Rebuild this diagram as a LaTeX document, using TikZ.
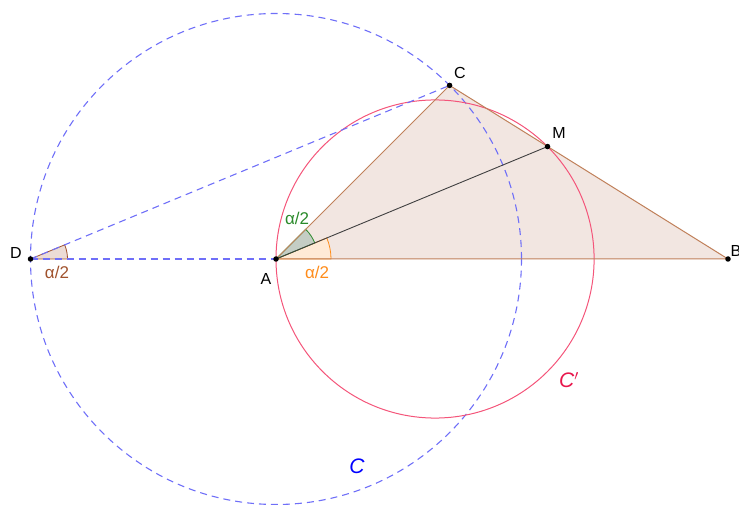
\documentclass[tikz,border=0pt]{standalone}
\usepackage{fontspec}
\setmainfont{Liberation Sans}
\usetikzlibrary{calc}
\begin{document}
\begin{tikzpicture}[x=1pt,y=1pt,
  tri/.style={draw=triedge,line width=1pt},
  dashblue/.style={draw=dblue,dash pattern=on 7pt off 5pt,line width=1.1pt},
  pt/.style={circle,fill=black,inner sep=0pt,minimum size=5.5pt},
  lab/.style={font=\fontsize{16}{18}\selectfont,inner sep=1pt},
  alab/.style={font=\fontsize{17}{19}\selectfont,inner sep=1pt},
  big/.style={font=\fontsize{21}{23}\selectfont\itshape,inner sep=1pt}]
\definecolor{triedge}{HTML}{C0805A}
\definecolor{trifill}{HTML}{F2E6E1}
\definecolor{dblue}{HTML}{6F6FF8}
\definecolor{pinkc}{HTML}{F4557A}
\definecolor{cpr}{HTML}{E8174C}
\definecolor{brownl}{HTML}{A0522D}
\definecolor{orangel}{HTML}{FF8C1A}
\definecolor{greenl}{HTML}{2A8A2A}
\useasboundingbox (0,0) rectangle (739,504);
\coordinate (A) at (276,245);
\coordinate (B) at (728,245);
\coordinate (D) at (30.5,245);
\coordinate (C) at ($(A)+(45:245.5)$);
\coordinate (M) at ($(A)+(22.5:293.9)$);
\coordinate (P) at ($(A)+(159.05,0)$);
% triangle
\fill[trifill] (A) -- (C) -- (B) -- cycle;
% angle sectors
\filldraw[fill=brownl!20,draw=brownl,line width=0.8pt] (D) -- ++(37,0) arc[start angle=0,end angle=22.5,radius=37] -- cycle;
\filldraw[fill=orangel!18,draw=orangel,line width=0.8pt] (A) -- ++(55,0) arc[start angle=0,end angle=22.5,radius=55] -- cycle;
\filldraw[fill=greenl!22!gray!40,draw=greenl,line width=0.8pt] (A) -- ($(A)+(22.5:42)$) arc[start angle=22.5,end angle=45,radius=42] -- cycle;
% circles
\draw[dashblue] (A) circle[radius=245.5];
\draw[pinkc,line width=1pt] (P) circle[radius=159.05];
% dashed lines
\draw[dashblue] (D) -- (A);
\draw[dashblue] (D) -- (C);
% triangle edges
\draw[tri] (A) -- (C) -- (B) -- (A);
\draw[black!75,line width=0.9pt] (A) -- (M);
% points
\node[pt] (nA) at (A) {};
\node[pt] (nB) at (B) {};
\node[pt] (nC) at (C) {};
\node[pt] (nD) at (D) {};
\node[pt] (nM) at (M) {};
% labels
\node[lab] (lA) at (266,225) {A};
\node[lab] (lB) at (736,253) {B};
\node[lab] (lC) at (460,431) {C};
\node[lab] (lD) at (16,251) {D};
\node[lab] (lM) at (559,371) {M};
\node[alab,text=brownl] (aD) at (57,232) {α/2};
\node[alab,text=orangel] (aA) at (317,232) {α/2};
\node[alab,text=greenl] (aG) at (297,286) {α/2};
\node[big,text=blue] (cC) at (357,38) {C};
\node[big,text=cpr] (cCp) at (569,124) {C$'$};
\end{tikzpicture}
\end{document}
